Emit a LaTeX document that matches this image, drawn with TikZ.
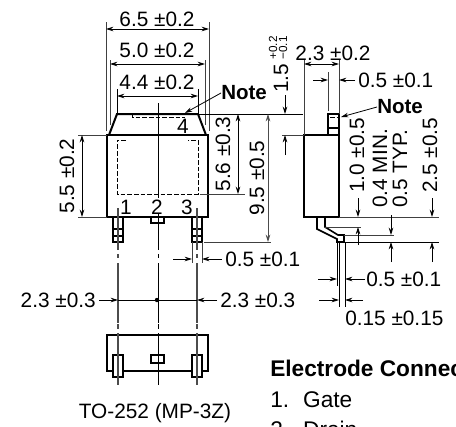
\documentclass[tikz,border=0pt]{standalone}
\usepackage{fontspec}
\setmainfont{Liberation Sans}
\usetikzlibrary{arrows.meta}

\tikzset{
	outline/.style={line width=1.5pt,line join=miter},
	leadline/.style={line width=1.2pt},
	thinline/.style={line width=0.6pt},
	extline/.style={line width=0.6pt,black!75},
	centerline/.style={line width=0.8pt,black!70},
	hidden/.style={line width=0.6pt,dash pattern=on 3.5pt off 1.5pt},
	dimtip/.style={line width=0.6pt,-{Stealth[length=5.5pt,width=3.4pt]}},
	dimboth/.style={line width=0.6pt,{Stealth[length=5.5pt,width=3.4pt]}-{Stealth[length=5.5pt,width=3.4pt]}},
	dimtext/.style={inner sep=0pt,font=\fontsize{15.6}{18}\selectfont},
	notetext/.style={inner sep=0pt,font=\fontsize{15.4}{18}\selectfont\bfseries},
	vertext/.style={inner sep=0pt,rotate=90,font=\fontsize{15.6}{18}\selectfont},
	captext/.style={inner sep=0pt,rotate=90,font=\fontsize{8.8}{10}\selectfont},
	legendtext/.style={inner sep=0pt,anchor=base west,font=\fontsize{17}{20}\selectfont},
}

\begin{document}
\begin{tikzpicture}[x=0.75pt,y=-0.75pt]
		\useasboundingbox (0,0) rectangle (456,426);
		\clip (0,0) rectangle (456,426);

		% top view
		\draw[outline] (107,135) rectangle (208,217);
		\draw[outline] (109,135) -- (117,114) -- (198,114) -- (206,135);
		\draw[hidden] (132,114) -- (132,117) -- (185,117);
		\draw[hidden] (126,140) -- (117,140) -- (117,194) -- (198,194) -- (198,140) -- (188,140);
		\node[dimtext] (padfour) at (183,126) {4};
		\node[dimtext] (padone) at (126,207) {1};
		\node[dimtext] (padtwo) at (157,207) {2};
		\node[dimtext] (padthree) at (187,207) {3};
		\draw[thinline] (158,103) -- (158,198) (158,213) -- (158,250);
		\draw[thinline] (158,254) -- (158,258);
		\draw[thinline] (158,263) -- (158,323);

		% leads
		\draw[leadline] (113,217) rectangle (123,242);
		\draw[leadline] (113,229) -- (123,229) (113,236) -- (123,236);
		\draw[leadline] (192,217) rectangle (202,242);
		\draw[leadline] (192,229) -- (202,229) (192,236) -- (202,236);
		\draw[leadline] (151,217) -- (151,223) -- (164,223) -- (164,217);
		\draw[centerline] (118,208) -- (118,250) (118,254) -- (118,258) (118,263) -- (118,323);
		\draw[centerline] (197,208) -- (197,250) (197,254) -- (197,258) (197,263) -- (197,323);

		% width dimensions
		\draw[extline] (106,22) -- (106,131);
		\draw[extline] (209,22) -- (209,131);
		\draw[extline] (110,60) -- (110,125);
		\draw[extline] (205,60) -- (205,125);
		\draw[thinline] (117,89) -- (117,114);
		\draw[thinline] (198,89) -- (198,114);
		\draw[dimboth] (106,29) -- (209,29);
		\draw[dimboth] (110,64) -- (205,64);
		\draw[dimboth] (117,96) -- (198,96);
		\node[dimtext] (widthA) at (157,19) {6.5 ±0.2};
		\node[dimtext] (widthB) at (157,50) {5.0 ±0.2};
		\node[dimtext] (widthC) at (157,82) {4.4 ±0.2};

		% note of the top view
		\node[notetext,anchor=west] (noteA) at (221,93) {Note};
		\coordinate (noteAend) at (185,113);
		\draw[dimtip] (noteA.west) -- (noteAend);

		% heights
		\draw[extline] (78,135) -- (107,135);
		\draw[extline] (78,217) -- (107,217);
		\draw[dimboth] (82,135) -- (82,217);
		\node[vertext] (heightA) at (67,176) {5.5 ±0.2};
		\draw[thinline] (198,114) -- (303,114);
		\draw[extline] (200,194) -- (245,194);
		\draw[extline] (204,242) -- (271,242);
		\draw[dimboth] (238,114) -- (238,194);
		\draw[dimboth,black!70] (268,114) -- (268,242);
		\node[vertext] (heightB) at (223,154) {5.6 ±0.3};
		\node[vertext] (heightC) at (257,178) {9.5 ±0.5};

		% lead dimensions below
		\draw[extline] (192,242) -- (192,263);
		\draw[extline] (202,242) -- (202,263);
		\draw[dimtip] (173,259) -- (192,259);
		\draw[dimtip] (222,259) -- (202,259);
		\node[dimtext,anchor=west] (leadwidth) at (225,259) {0.5 ±0.1};
		\draw[thinline] (118,300) -- (197,300);
		\draw[dimtip] (99,300) -- (118,300);
		\draw[dimtip] (217,300) -- (197,300);
		\fill (157,300) circle (2.2);
		\node[dimtext,anchor=east] (pitchA) at (96,300) {2.3 ±0.3};
		\node[dimtext,anchor=west] (pitchB) at (220,300) {2.3 ±0.3};

		% bottom view
		\draw[outline] (123,371) -- (107,371) -- (107,335) -- (208,335) -- (208,371) -- (192,371);
		\draw[outline] (123,371) -- (192,371);
		\draw[leadline,fill=white] (113,355) rectangle (123,377);
		\draw[leadline,fill=white] (192,355) rectangle (202,377);
		\draw[leadline] (151,355) rectangle (164,363);
		\draw[centerline] (118,324) -- (118,329) (118,333) -- (118,385);
		\draw[centerline] (197,324) -- (197,329) (197,333) -- (197,385);
		\draw[thinline] (158,324) -- (158,329) (158,333) -- (158,385);
		\node[dimtext] (caption) at (155,413) {TO-252 (MP-3Z)};

		% side view
		\draw[outline] (304,135) rectangle (339,217);
		\draw[leadline] (328,135) -- (328,114) -- (339,114) -- (339,135);
		\draw[leadline] (328,128) -- (339,128);
		\draw[hidden] (330,117) -- (339,117);
		\draw[leadline] (317,217) -- (317,229) -- (337,239) -- (337,242) -- (344,242) -- (344,235) -- (338,235) -- (325,227) -- (325,217);

		% side view dimensions
		\draw[extline] (304,60) -- (304,135);
		\draw[extline] (339,60) -- (339,114);
		\draw[extline] (328,72) -- (328,111);
		\draw[dimboth] (304,64) -- (339,64);
		\draw[dimtip] (313,80) -- (328,80);
		\draw[dimtip] (355,80) -- (339,80);
		\node[dimtext] (sideA) at (333,53) {2.3 ±0.2};
		\node[dimtext,anchor=west] (sideB) at (358,80) {0.5 ±0.1};
		\node[notetext,anchor=west] (noteB) at (377,107) {Note};
		\coordinate (noteBend) at (341,117);
		\draw[dimtip] (noteB.west) -- (noteBend);

		\draw[extline] (282,135) -- (304,135);
		\draw[dimtip] (285,95) -- (285,114);
		\draw[dimtip] (285,155) -- (285,135);
		\node[vertext,anchor=west] (capA) at (281,93) {1.5};
		\node[captext] (capB) at (273,48) {+0.2};
		\node[captext] (capC) at (283,48) {−0.1};

		% lead offsets
		\draw[extline] (339,217) -- (439,217);
		\draw[thinline] (344,242) -- (439,242);
		\draw[extline] (325,227) -- (361,227);
		\draw[extline] (344,235) -- (394,235);
		\draw[dimtip] (358,198) -- (358,217);
		\draw[dimtip] (358,245) -- (358,227);
		\draw[dimtip] (391,215) -- (391,235);
		\draw[dimtip] (391,262) -- (391,242);
		\draw[dimtip] (432,198) -- (432,217);
		\draw[dimtip] (432,262) -- (432,242);
		\node[vertext,anchor=west] (offA) at (357,193) {1.0 ±0.5};
		\node[vertext,anchor=west] (offB) at (380,208) {0.4 MIN.};
		\node[vertext,anchor=west] (offC) at (400,208) {0.5 TYP.};
		\node[vertext,anchor=west] (offD) at (430,193) {2.5 ±0.5};

		% lead thickness
		\draw[thinline] (337,242) -- (337,286);
		\draw[thinline] (339,242) -- (339,307);
		\draw[thinline] (345,242) -- (345,307);
		\draw[dimtip] (318,279) -- (337,279);
		\draw[dimtip] (365,279) -- (345,279);
		\draw[dimtip] (319,300) -- (339,300);
		\draw[dimtip] (363,300) -- (345,300);
		\node[dimtext,anchor=west] (thickA) at (366,279) {0.5 ±0.1};
		\node[dimtext,anchor=west] (thickB) at (345,318) {0.15 ±0.15};

		% legend
		\node[legendtext,font=\fontsize{17}{20}\selectfont\bfseries] (legendhead) at (270,376) {Electrode Connection};
		\node[legendtext] (legendone) at (270,407) {1.\hspace{10.5pt}Gate};
		\node[legendtext] (legendtwo) at (270,437) {2.\hspace{10.5pt}Drain};
	\end{tikzpicture}
\end{document}
